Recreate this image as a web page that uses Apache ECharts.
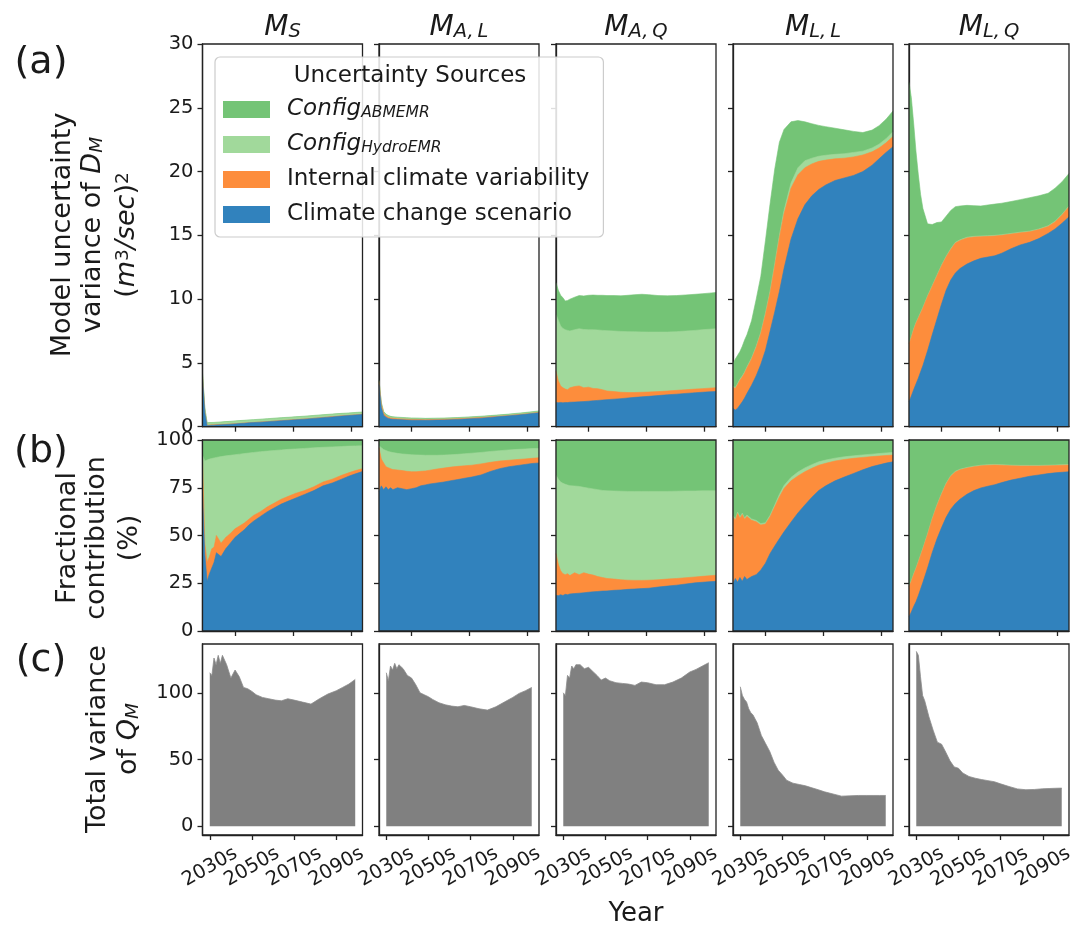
<!DOCTYPE html>
<html><head><meta charset="utf-8">
<script src="https://cdn.jsdelivr.net/npm/echarts@6/dist/echarts.min.js"></script>
<style>html,body{margin:0;padding:0;background:#fff}#c{width:1087px;height:932px}</style>
</head><body><div id="c"></div>
<script>
// ---------------- data ----------------
const YEARS = [2030,2031,2032,2033,2034,2035,2036,2038,2040,2042,2044,2046,2048,2050,2052,2055,2058,2061,2064,2067,2070,2074,2078,2082,2086,2090,2093,2096,2099];
const X_TICKS_AB = [2044, 2069, 2094];
const X_TICKS_C = [2030, 2050, 2070, 2090];
const Y_TICKS_C = [0, 50, 100];

// (a) model uncertainty variance components
const a_MS_scen  = [3.8,1.1,0.08,0.10,0.11,0.12,0.14,0.15,0.17,0.19,0.22,0.245,0.27,0.30,0.32,0.355,0.39,0.43,0.47,0.50,0.54,0.59,0.65,0.71,0.77,0.83,0.87,0.92,0.96];
const a_MS_icv   = [0.15,0.07,0.03,0.03,0.035,0.03,0.03,0.028,0.025,0.022,0.02,0.02,0.018,0.017,0.017,0.016,0.016,0.017,0.018,0.019,0.02,0.019,0.018,0.019,0.02,0.02,0.02,0.018,0.017];
const a_MS_hydro = [0.15,0.25,0.16,0.16,0.155,0.155,0.15,0.16,0.17,0.175,0.178,0.18,0.18,0.18,0.18,0.182,0.185,0.185,0.183,0.182,0.18,0.18,0.18,0.175,0.167,0.16,0.15,0.145,0.138];
const a_MS_abm   = [0.1,0.06,0.03,0.03,0.03,0.03,0.03,0.033,0.035,0.035,0.035,0.035,0.035,0.035,0.035,0.036,0.037,0.037,0.037,0.037,0.037,0.037,0.036,0.036,0.036,0.035,0.034,0.035,0.035];

const a_MAL_scen  = [3.3,1.5,0.9,0.75,0.65,0.61,0.58,0.56,0.54,0.52,0.51,0.51,0.51,0.50,0.51,0.52,0.53,0.55,0.57,0.60,0.63,0.67,0.73,0.79,0.85,0.92,0.97,1.03,1.09];
const a_MAL_icv   = [0.25,0.25,0.16,0.10,0.10,0.08,0.08,0.07,0.068,0.067,0.061,0.057,0.051,0.048,0.048,0.049,0.05,0.05,0.05,0.049,0.048,0.048,0.042,0.037,0.034,0.033,0.032,0.032,0.033];
const a_MAL_hydro = [0.05,0.08,0.08,0.084,0.075,0.07,0.069,0.065,0.063,0.062,0.061,0.06,0.057,0.054,0.051,0.048,0.046,0.046,0.045,0.047,0.049,0.049,0.05,0.05,0.053,0.056,0.058,0.06,0.061];
const a_MAL_abm   = [0.05,0.07,0.06,0.054,0.053,0.051,0.051,0.053,0.053,0.053,0.053,0.053,0.053,0.053,0.053,0.054,0.054,0.054,0.054,0.054,0.054,0.053,0.052,0.052,0.051,0.052,0.052,0.053,0.055];

const a_MAQ_scen  = [1.9,1.88,1.9,1.87,1.9,1.89,1.92,1.93,1.95,1.97,2.0,2.03,2.06,2.09,2.12,2.16,2.2,2.25,2.3,2.34,2.38,2.44,2.5,2.55,2.61,2.66,2.7,2.73,2.76];
const a_MAQ_icv   = [2.45,1.72,1.3,1.18,1.05,1.01,1.13,1.22,1.25,1.08,1.1,0.97,0.92,0.81,0.68,0.59,0.5,0.43,0.38,0.36,0.34,0.31,0.3,0.3,0.29,0.29,0.28,0.29,0.3];
const a_MAQ_hydro = [4.45,4.75,4.7,4.65,4.65,4.65,4.45,4.45,4.48,4.57,4.5,4.6,4.6,4.65,4.73,4.75,4.77,4.77,4.76,4.73,4.7,4.67,4.62,4.6,4.6,4.6,4.62,4.62,4.62];
const a_MAQ_abm   = [2.5,2.35,2.4,2.4,2.25,2.35,2.5,2.55,2.6,2.63,2.7,2.72,2.72,2.75,2.75,2.78,2.79,2.85,2.91,2.95,2.93,2.86,2.84,2.83,2.83,2.83,2.82,2.83,2.84];

const a_MLL_scen  = [1.44,1.3,1.45,1.7,1.95,2.25,2.6,3.25,4.0,4.9,6.0,7.5,9.0,10.6,12.4,14.7,16.3,17.4,18.1,18.6,18.95,19.3,19.5,19.7,20.0,20.5,21.0,21.5,21.95];
const a_MLL_icv   = [1.66,1.7,1.85,1.95,1.95,1.95,2.0,2.05,2.2,2.4,2.8,3.0,3.6,4.2,4.3,4.0,3.45,2.9,2.5,2.2,1.95,1.7,1.55,1.45,1.3,1.05,0.85,0.75,0.8];
const a_MLL_hydro = [0.08,0.08,0.08,0.08,0.08,0.08,0.08,0.08,0.1,0.1,0.12,0.14,0.16,0.18,0.25,0.4,0.55,0.55,0.45,0.4,0.38,0.35,0.35,0.35,0.3,0.3,0.3,0.33,0.38];
const a_MLL_abm   = [1.77,2.22,2.22,2.17,2.32,2.52,2.52,2.92,3.7,4.4,5.68,6.86,7.44,7.32,6.35,4.8,3.7,3.05,2.7,2.42,2.24,2.05,1.87,1.65,1.46,1.4,1.45,1.52,1.62];

const a_MLQ_scen  = [1.96,2.4,2.9,3.35,3.8,4.3,4.8,5.95,7.2,8.4,9.6,10.7,11.5,12.05,12.4,12.75,13.0,13.2,13.3,13.4,13.6,13.95,14.25,14.45,14.75,15.15,15.5,15.95,16.45];
const a_MLQ_icv   = [4.54,4.6,4.7,4.75,4.7,4.6,4.5,4.25,3.8,3.4,3.0,2.6,2.4,2.35,2.2,2.05,1.87,1.7,1.62,1.55,1.4,1.15,0.95,0.83,0.7,0.55,0.55,0.65,0.8];
const a_MLQ_hydro = [0.05,0.05,0.05,0.05,0.05,0.05,0.05,0.05,0.05,0.05,0.05,0.05,0.05,0.05,0.05,0.05,0.05,0.05,0.05,0.05,0.05,0.05,0.05,0.05,0.05,0.05,0.05,0.05,0.05];
const a_MLQ_abm   = [20.45,18.75,16.15,13.45,11.25,9.25,7.75,5.65,4.8,4.15,3.4,3.15,3.0,2.8,2.65,2.5,2.41,2.35,2.41,2.45,2.47,2.5,2.55,2.62,2.6,2.55,2.6,2.55,2.55];

// (b) fractional contribution (%)
const b_MS_scen  = [72,40,26,30,33,36,41,39,43,46,49,51,53,55.5,57.5,60,62.5,64.5,66.5,68,69.5,71.5,73.5,76,77.5,79.5,81,82.3,83.5];
const b_MS_icv   = [18,6,10,9,10,8,9,7,6,5,4.5,4,3.5,3,3,2.5,2.5,2.5,2.5,2.5,2.5,2,2,2,2,2,1.8,1.7,1.5];
const b_MS_hydro = [2,43,53.5,51,47.3,46.6,40.9,45.3,42.7,41,38.8,37.6,36.4,34.7,33,31.4,29.2,27.5,25.8,24.6,23.3,22.1,20.4,18.2,16.9,15.1,14,12.9,12];
const b_MS_abm   = [8,11,10.5,10,9.7,9.4,9.1,8.7,8.3,8,7.7,7.4,7.1,6.8,6.5,6.1,5.8,5.5,5.2,4.9,4.7,4.4,4.1,3.8,3.6,3.4,3.2,3.1,3];

const b_MAL_scen  = [73,76,74,75.5,74,75,74,75,74.5,74,74.5,75,76,76.5,77,77.5,78,78.7,79.3,80,80.6,81.7,83.5,85,86,86.7,87.2,87.7,88];
const b_MAL_icv   = [23,14,14,10.5,11.5,10,10.5,9.3,9.5,9.6,8.9,8.4,7.6,7.3,7.2,7.3,7.3,7.1,6.9,6.5,6.2,5.8,4.8,4,3.4,3.1,2.9,2.7,2.7];
const b_MAL_hydro = [1,6,7,8.5,8.5,8.7,8.9,8.7,8.7,8.9,8.9,8.8,8.5,8.2,7.8,7.2,6.8,6.5,6.3,6.3,6.3,6,5.7,5.4,5.4,5.3,5.2,5.1,4.9];
const b_MAL_abm   = [3,4,5,5.5,6,6.3,6.6,7,7.3,7.5,7.7,7.8,7.9,8,8,8,7.9,7.7,7.5,7.2,6.9,6.5,6,5.6,5.2,4.9,4.7,4.5,4.4];

const b_MAQ_scen  = [18.7,18.5,19,18.6,19.2,19,19.4,19.6,19.8,20,20.3,20.5,20.7,20.9,21,21.3,21.5,21.8,22,22.2,22.4,23,23.5,24,24.6,25.2,25.5,25.8,26];
const b_MAQ_icv   = [21.9,16.5,12.5,11.4,10.3,11,9.6,10.9,9.7,10.5,9.5,8.8,7.8,7.1,6.5,5.9,5.3,4.8,4.5,4.3,4.2,3.8,3.7,3.5,3.3,3.1,3.1,3.1,3.2];
const b_MAQ_hydro = [41,44.5,46.5,47.3,47.3,46.4,47.1,45.4,46.2,44.7,45,45.1,45.5,45.6,45.9,46.1,46.4,46.5,46.6,46.6,46.5,46.3,45.9,45.7,45.4,45,44.8,44.5,44.2];
const b_MAQ_abm   = [18.4,20.5,22,22.7,23.2,23.6,23.9,24.1,24.3,24.8,25.2,25.6,26,26.4,26.6,26.7,26.8,26.9,26.9,26.9,26.9,26.9,26.9,26.8,26.7,26.7,26.6,26.6,26.6];

const b_MLL_scen  = [24.8,27.5,25.5,28,26,28.5,27,28.5,29.5,32,35.5,40.6,44.5,48.3,51.9,57,61.8,66,70,73.6,76,78.6,80.6,82.5,84.4,86.1,87,87.9,88.6];
const b_MLL_icv   = [35,30.5,36,31,35,30,33,29.5,27.7,23.5,20.5,19.2,20.5,21.9,22.7,21.6,19.4,17.4,15.2,13.2,11.8,10.4,9.2,7.9,6.5,5.2,4.6,4,3.5];
const b_MLL_hydro = [0.7,0.7,0.7,0.7,0.7,0.7,0.7,0.7,0.7,0.7,0.7,0.8,1.0,1.3,1.6,1.8,2.0,2.0,1.9,1.8,1.7,1.5,1.4,1.3,1.3,1.3,1.3,1.35,1.4];
const b_MLL_abm   = [39.5,41.3,37.8,40.3,38.3,40.8,39.3,41.3,42.1,43.8,43.3,39.4,34,28.5,23.8,19.6,16.8,14.6,12.9,11.4,10.5,9.5,8.8,8.3,7.8,7.4,7.1,6.75,6.5];

const b_MLQ_scen  = [7.3,10,12.8,15.3,18.5,22,25.5,33,41,48,54,59.5,63.8,66.8,69,71.6,73.5,74.9,75.8,76.6,77.7,79,80,81,81.7,82.4,82.8,83.1,83.4];
const b_MLQ_icv   = [15.7,16,16.7,17.3,17.5,17.5,17.5,17.5,17.5,17.5,17.5,17.5,17.2,16.5,15.4,13.7,12.5,11.6,11,10.3,9.1,7.5,6.4,5.4,4.7,4.1,3.8,3.7,3.5];
const b_MLQ_hydro = [0.3,0.3,0.3,0.3,0.3,0.3,0.3,0.3,0.3,0.3,0.3,0.3,0.3,0.3,0.3,0.3,0.3,0.3,0.3,0.3,0.3,0.3,0.3,0.3,0.3,0.3,0.3,0.3,0.3];
const b_MLQ_abm   = [76.7,73.7,70.2,67.1,63.7,60.2,56.7,49.2,41.2,34.2,28.2,22.7,18.7,16.4,15.3,14.4,13.7,13.2,12.9,12.8,12.9,13.2,13.3,13.3,13.3,13.2,13.1,12.9,12.8];

// (c) total variance of Q_M
const c_MS  = [115,113,126,121,128,122,128,121,111,117,112,104,103,101,98.5,96.5,95.5,94.5,94,95.5,94.5,93,91.5,95.5,99,101.5,104,106.5,110];
const c_MAL = [115,109,120,117,122,118,121,118,113,111,106,100,98.5,97,95,92.5,91,90,89.5,90.5,89.5,88,87,89.5,93,96.5,99.5,101.5,104];
const c_MAQ = [100,98,113,111,120,118,121,121,118,119,116,113,109.5,111,109,107.5,107,106.5,105.5,108,107.5,106,106,108,111,115.5,117.5,120,122.5];
const c_MLL = [104.5,98,95,93,88,85,83.5,77.5,68,62,56,48,42,38.5,34.5,32.3,31.3,30.3,28.8,27.4,25.8,24.2,22.6,22.8,23.1,23.1,23.1,23.1,23.1];
const c_MLQ = [131,128,112,98,94,88,82,72,63,61.5,55.5,49,44.5,43.5,40,37.3,36,35,34.2,33.4,31.8,29.8,28,27.4,27.6,28.1,28.3,28.5,28.6];

const PANEL_SUBS = ['S', 'A,\u2009L', 'A,\u2009Q', 'L,\u2009L', 'L,\u2009Q'];
const SOURCE_NAMES = {abm:'Config_ABMEMR', hydro:'Config_HydroEMR', icv:'Internal climate variability', scen:'Climate change scenario'};

// ---------------- assembly ----------------
const A = [
  {scen:a_MS_scen, icv:a_MS_icv, hydro:a_MS_hydro, abm:a_MS_abm},
  {scen:a_MAL_scen, icv:a_MAL_icv, hydro:a_MAL_hydro, abm:a_MAL_abm},
  {scen:a_MAQ_scen, icv:a_MAQ_icv, hydro:a_MAQ_hydro, abm:a_MAQ_abm},
  {scen:a_MLL_scen, icv:a_MLL_icv, hydro:a_MLL_hydro, abm:a_MLL_abm},
  {scen:a_MLQ_scen, icv:a_MLQ_icv, hydro:a_MLQ_hydro, abm:a_MLQ_abm}
];
const B = [
  {scen:b_MS_scen, icv:b_MS_icv, hydro:b_MS_hydro, abm:b_MS_abm},
  {scen:b_MAL_scen, icv:b_MAL_icv, hydro:b_MAL_hydro, abm:b_MAL_abm},
  {scen:b_MAQ_scen, icv:b_MAQ_icv, hydro:b_MAQ_hydro, abm:b_MAQ_abm},
  {scen:b_MLL_scen, icv:b_MLL_icv, hydro:b_MLL_hydro, abm:b_MLL_abm},
  {scen:b_MLQ_scen, icv:b_MLQ_icv, hydro:b_MLQ_hydro, abm:b_MLQ_abm}
];
const C = [c_MS, c_MAL, c_MAQ, c_MLL, c_MLQ];

const COLORS = {scen:'#3182bd', icv:'#fd8d3c', hydro:'#a1d99b', abm:'#74c476'};
const STACK_ORDER = ['scen','icv','hydro','abm'];
const FONT = 'DejaVu Sans', TXT = '#1a1a1a', AX = '#222222';
const COL_LEFT = [202.5, 379, 556, 733, 909], COL_W = 160;
const ROW_TOP = [44, 440, 644], ROW_H = [382.7, 191, 191];
const TICK_FS = 19.5;

// stacked tops (like a stack layout): running sum of the components in stack order
function stackTops(src) {
  const out = {}; let run = YEARS.map(() => 0);
  STACK_ORDER.forEach(k => { run = run.map((v, i) => v + src[k][i]); out[k] = run; });
  return out;
}

const grids = [], xAxes = [], yAxes = [], series = [];
for (let r = 0; r < 3; r++) {
  for (let c = 0; c < 5; c++) {
    const gi = r * 5 + c;
    const isC = r === 2;
    grids.push({left: COL_LEFT[c], top: ROW_TOP[r], width: COL_W, height: ROW_H[r],
      show: true, borderColor: AX, borderWidth: 1.3, backgroundColor: 'transparent', z: 10});
    xAxes.push({
      type: 'value', gridIndex: gi,
      min: isC ? 2026.55 : 2030, max: isC ? 2102.45 : 2099,
      axisLine: {show: true, onZero: false, lineStyle: {color: AX, width: 1.3}},
      axisTick: {show: true, length: 5, lineStyle: {color: AX, width: 1.3}, customValues: isC ? X_TICKS_C : X_TICKS_AB},
      axisLabel: {show: isC, customValues: X_TICKS_C, formatter: v => v + 's', rotate: 30,
        align: 'center', verticalAlign: 'middle', margin: 32, fontSize: TICK_FS, fontFamily: FONT, color: TXT},
      splitLine: {show: false}
    });
    const y = {type: 'value', gridIndex: gi,
      axisLine: {show: true, onZero: false, lineStyle: {color: AX, width: 1.3}},
      axisTick: {show: true, length: 5, lineStyle: {color: AX, width: 1.3}},
      axisLabel: {show: c === 0, fontSize: TICK_FS, fontFamily: FONT, color: TXT, margin: 9},
      splitLine: {show: false}};
    if (r === 0) { y.min = 0; y.max = 30; y.interval = 5; }
    else if (r === 1) { y.min = 0; y.max = 100; y.interval = 25; }
    else { y.min = -6.5; y.max = 136.5; y.axisTick.customValues = Y_TICKS_C; y.axisLabel.customValues = Y_TICKS_C; }
    yAxes.push(y);

    if (!isC) {
      const tops = stackTops(r === 0 ? A[c] : B[c]);
      // paint from the top layer down so each lower layer covers the one above it
      ['abm', 'hydro', 'icv', 'scen'].forEach((k, j) => {
        series.push({type: 'line', name: SOURCE_NAMES[k], xAxisIndex: gi, yAxisIndex: gi,
          data: YEARS.map((yr, i) => [yr, tops[k][i]]),
          symbol: 'none', showSymbol: false, silent: true, color: COLORS[k],
          lineStyle: {width: 0.6, color: COLORS[k]},
          areaStyle: {color: COLORS[k], opacity: 1, origin: 'start'}, z: 2 + j});
      });
    } else {
      series.push({type: 'line', name: 'Total variance', xAxisIndex: gi, yAxisIndex: gi,
        data: YEARS.map((yr, i) => [yr, C[c][i]]),
        symbol: 'none', showSymbol: false, silent: true, color: '#808080',
        lineStyle: {width: 0.8, color: '#8c8c8c'},
        areaStyle: {color: '#808080', opacity: 1, origin: 'auto'}, z: 2});
    }
  }
}

function txt(x, y, text, size, rich, rot) {
  return {type: 'text', x: x, y: y, rotation: rot || 0, z: 30, silent: true,
    style: {text: text, fontFamily: FONT, fontSize: size, fill: TXT, textAlign: 'center', textVerticalAlign: 'middle', rich: rich || {}}};
}
const graphics = [];
PANEL_SUBS.forEach((s, c) => {
  graphics.push(txt(COL_LEFT[c] + COL_W / 2, 28, '{m|M}{s|' + s + '}', 27, {
    m: {fontStyle: 'italic', fontFamily: FONT, fontSize: 28, fill: TXT, verticalAlign: 'bottom'},
    s: {fontStyle: 'italic', fontFamily: FONT, fontSize: 19.5, fill: TXT, verticalAlign: 'bottom'}
  }));
});
graphics.push(txt(41, 63, '(a)', 38));
graphics.push(txt(41, 452, '(b)', 38));
graphics.push(txt(41, 661, '(c)', 38));
const RL = {
  n: {fontFamily: FONT, fontSize: 27, fill: TXT, verticalAlign: 'bottom'},
  it: {fontStyle: 'italic', fontFamily: FONT, fontSize: 27, fill: TXT, verticalAlign: 'bottom'},
  sub: {fontStyle: 'italic', fontFamily: FONT, fontSize: 18.5, fill: TXT, verticalAlign: 'bottom'},
  sup: {fontFamily: FONT, fontSize: 18.5, fill: TXT, verticalAlign: 'top'}
};
const R90 = Math.PI / 2;
graphics.push(txt(63, 235, 'Model uncertainty', 27, RL, R90));
graphics.push(txt(93, 235, '{n|variance of }{it|D}{sub|M}', 27, RL, R90));
graphics.push(txt(127, 235, '{n|(}{it|m}{sup|3}{it|/sec}{n|)}{sup|2}', 27, RL, R90));
graphics.push(txt(68, 538, 'Fractional', 27, RL, R90));
graphics.push(txt(97, 538, 'contribution', 27, RL, R90));
graphics.push(txt(130, 538, '(%)', 27, RL, R90));
graphics.push(txt(98, 739, 'Total variance', 27, RL, R90));
graphics.push(txt(129, 739, '{n|of }{it|Q}{sub|M}', 27, RL, R90));
graphics.push(txt(636, 914, 'Year', 26));
graphics.push(txt(410, 76, 'Uncertainty Sources', 23));

const LEGEND_FMT = {
  'Config_ABMEMR': '{it|Config}{sub|ABMEMR}',
  'Config_HydroEMR': '{it|Config}{sub|HydroEMR}',
  'Internal climate variability': '{n|Internal climate variability}',
  'Climate change scenario': '{n|Climate change scenario}'
};

const chart = echarts.init(document.getElementById('c'), null, {renderer: 'canvas'});
chart.setOption({
  animation: false,
  backgroundColor: '#ffffff',
  grid: grids, xAxis: xAxes, yAxis: yAxes, series: series,
  legend: {
    orient: 'vertical', left: 215, top: 57, z: 20,
    data: ['Config_ABMEMR', 'Config_HydroEMR', 'Internal climate variability', 'Climate change scenario'],
    icon: 'rect', itemWidth: 47, itemHeight: 17, itemGap: 12,
    padding: [41, 14, 11, 8],
    backgroundColor: 'rgba(255,255,255,0.85)', borderColor: '#cccccc', borderWidth: 1.2, borderRadius: 5,
    selectedMode: false,
    formatter: n => LEGEND_FMT[n],
    textStyle: {fontFamily: FONT, fontSize: 23, color: TXT, padding: [0, 0, 0, 12],
      rich: {
        n: {fontFamily: FONT, fontSize: 23, color: TXT, verticalAlign: 'bottom'},
        it: {fontStyle: 'italic', fontFamily: FONT, fontSize: 23, color: TXT, verticalAlign: 'bottom'},
        sub: {fontStyle: 'italic', fontFamily: FONT, fontSize: 15.5, color: TXT, verticalAlign: 'bottom'}
      }}
  },
  graphic: graphics
});
</script>
</body></html>
